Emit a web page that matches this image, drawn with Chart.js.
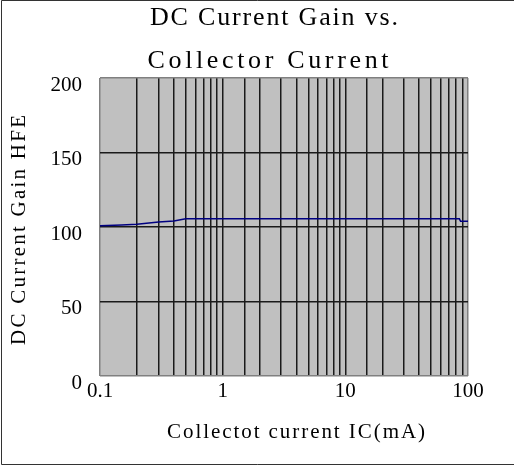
<!DOCTYPE html>
<html>
<head>
<meta charset="utf-8">
<script src="https://cdn.jsdelivr.net/npm/chart.js@4.4.0/dist/chart.umd.min.js"></script>
<style>
  body { margin: 0; background: #fff; }
  #wrap { width: 515px; height: 465px; position: relative; }
</style>
</head>
<body>
<div id="wrap"><canvas id="gainChart"></canvas></div>
<script>
const titleLines = ['DC Current Gain vs.', 'Collector Current'];
const xTitle = 'Collectot current IC(mA)';
const yTitle = 'DC Current Gain HFE';
const currentMA = [0.1, 0.15, 0.2, 0.3, 0.4, 0.5, 85, 87, 100, 106];
const gainHFE = [100.9, 101.3, 101.8, 103.3, 104, 105.5, 105.5, 103.8, 103.8, 102.5];
const yTicks = [0, 50, 100, 150, 200];

const serifFont = "'Liberation Serif', 'DejaVu Serif', serif";

// draws text spread out to a given width, like the fixed-pitch original
function spacedText(ctx, text, cx, y, width) {
    ctx.letterSpacing = '0px';
    const natural = ctx.measureText(text).width;
    const gap = Math.max(0, (width - natural) / (text.length - 1));
    ctx.letterSpacing = gap + 'px';
    ctx.textAlign = 'left';
    ctx.fillText(text, cx - width / 2, y);
    ctx.letterSpacing = '0px';
}

// gray plot background, frame, title and axis titles
const framePlugin = {
    id: 'frame',
    beforeDraw(chart) {
        const { ctx, chartArea: a } = chart;
        ctx.save();
        ctx.fillStyle = '#c0c0c0';
        ctx.fillRect(a.left, a.top, a.right - a.left, a.bottom - a.top);
        ctx.restore();
    },
    afterDraw(chart) {
        const { ctx, chartArea: a } = chart;
        ctx.save();
        ctx.fillStyle = '#000';
        ctx.textBaseline = 'alphabetic';
        ctx.font = '26px ' + serifFont;
        spacedText(ctx, titleLines[0], 274, 25, 248);
        spacedText(ctx, titleLines[1], 268, 68, 241);

        ctx.font = '21px ' + serifFont;
        spacedText(ctx, xTitle, (a.left + a.right) / 2 + 12, 438, 258);

        ctx.save();
        ctx.translate(25, (a.top + a.bottom) / 2 + 3);
        ctx.rotate(-Math.PI / 2);
        spacedText(ctx, yTitle, 0, 0, 230);
        ctx.restore();

        // outer border
        ctx.strokeStyle = '#333';
        ctx.lineWidth = 1;
        ctx.beginPath();
        ctx.moveTo(514, 0.5);
        ctx.lineTo(1.5, 0.5);
        ctx.lineTo(1.5, 464.5);
        ctx.lineTo(514, 464.5);
        ctx.stroke();
        ctx.restore();
    }
};

const ctx = document.getElementById('gainChart').getContext('2d');
const gainChart = new Chart(ctx, {
    type: 'line',
    data: {
        datasets: [{
            label: 'HFE',
            data: currentMA.map((x, i) => ({ x: x, y: gainHFE[i] })),
            borderColor: '#000080',
            borderWidth: 1.5,
            pointRadius: 0,
            fill: false,
            tension: 0,
            clip: false
        }]
    },
    options: {
        responsive: true,
        maintainAspectRatio: false,
        animation: false,
        layout: { padding: { left: 0, top: 78, right: 47, bottom: 0 } },
        plugins: {
            legend: { display: false },
            title: { display: false },
            tooltip: { enabled: false }
        },
        scales: {
            x: {
                type: 'logarithmic',
                min: 0.1,
                max: 100,
                afterFit: s => { s.height = 89; },
                border: { display: false },
                grid: {
                    drawTicks: false,
                    lineWidth: 1.5,
                    color: c => (c.tick && (c.tick.value <= 0.1001 || c.tick.value >= 99.9)) ? '#808080' : '#1a1a1a'
                },
                ticks: {
                    autoSkip: false,
                    maxRotation: 0,
                    padding: 3,
                    color: '#000',
                    font: { family: serifFont, size: 21 },
                    callback: v => {
                        const l = Math.log10(v);
                        return Math.abs(l - Math.round(l)) < 1e-6 ? String(v) : '';
                    }
                }
            },
            y: {
                min: 0,
                max: 200,
                afterFit: s => { s.width = 100; },
                afterBuildTicks: s => { s.ticks = yTicks.map(v => ({ value: v })); },
                border: { display: false },
                grid: {
                    drawTicks: false,
                    lineWidth: 1.5,
                    color: c => (c.tick && (c.tick.value === 0 || c.tick.value === 200)) ? '#808080' : '#1a1a1a'
                },
                ticks: {
                    padding: 18,
                    labelOffset: 7,
                    color: '#000',
                    font: { family: serifFont, size: 21 }
                }
            }
        }
    },
    plugins: [framePlugin]
});
</script>
</body>
</html>
